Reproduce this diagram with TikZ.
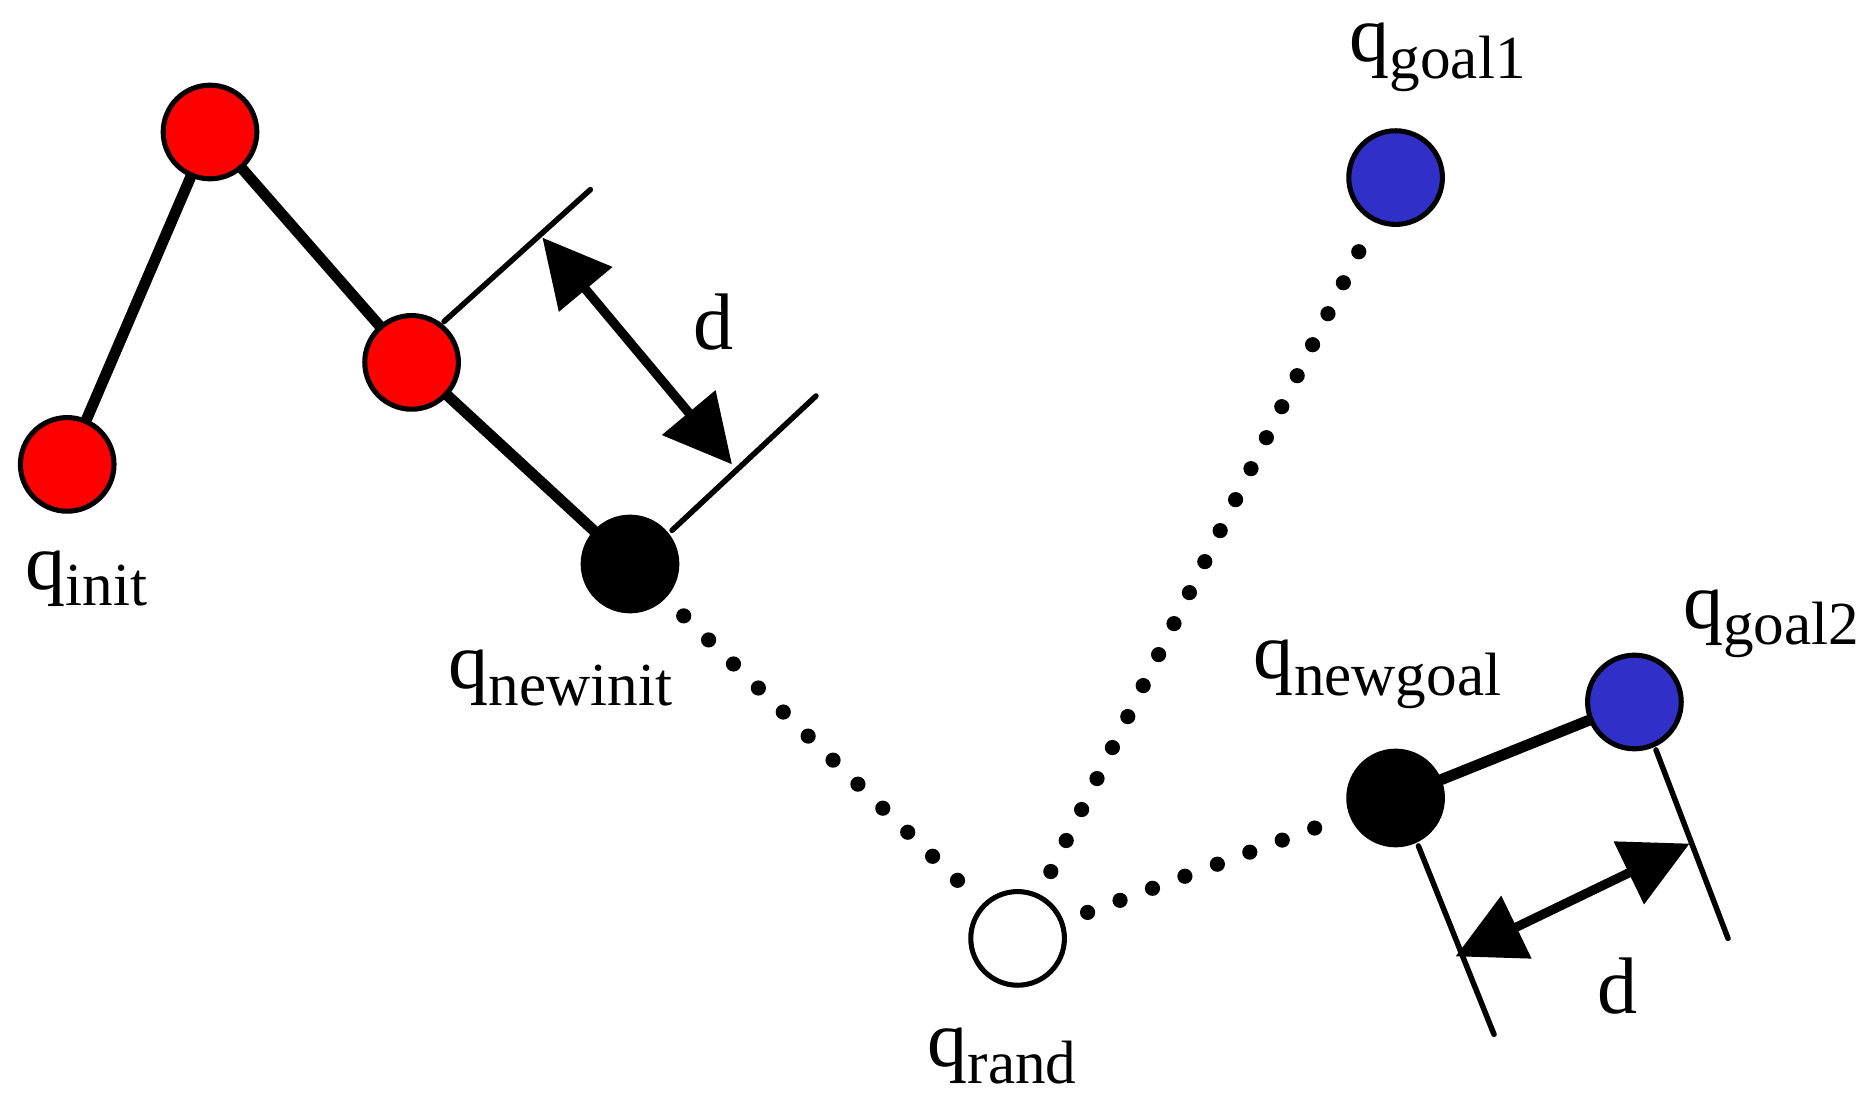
\documentclass[tikz,border=0pt]{standalone}
\usepackage{fontspec}
\setmainfont{Liberation Serif}
\usetikzlibrary{arrows.meta}
\newcommand{\qsub}[1]{q\raisebox{-0.45ex}{\fontsize{14.5}{17}\selectfont #1}}
\begin{document}
\begin{tikzpicture}[x=0.01cm, y=-0.01cm, line cap=round,
    vertex/.style={circle, draw=black, line width=1.2pt, minimum size=0.78cm, inner sep=0pt},
    tree/.style={line width=2.6pt},
    link/.style={line width=3.6pt, dash pattern=on 0pt off 8.2pt, shorten <=6pt, shorten >=6pt},
    ext/.style={line width=1.3pt},
    dim/.style={line width=2.2pt, {Triangle[length=16pt,width=16pt]}-{Triangle[length=16pt,width=16pt]}},
    lbl/.style={font=\fontsize{19}{23}\selectfont, inner sep=0pt}]
  \useasboundingbox (0,0) rectangle (1560,916);

  \node[vertex, fill=red] (init) at (56,387) {};
  \node[vertex, fill=red] (top) at (175,110) {};
  \node[vertex, fill=red] (mid) at (343,302) {};
  \node[vertex, fill=black] (newinit) at (525,470) {};
  \node[vertex, fill=white] (rand) at (848,782) {};
  \node[vertex, fill={rgb,255:red,48;green,48;blue,200}] (goal1) at (1163,148) {};
  \node[vertex, fill=black] (newgoal) at (1163,665) {};
  \node[vertex, fill={rgb,255:red,48;green,48;blue,200}] (goal2) at (1362,585) {};

  \draw[tree] (init) -- (top) -- (mid) -- (newinit);
  \draw[tree] (newgoal) -- (goal2);
  \draw[link] (newinit) -- (rand);
  \draw[link] (rand) -- (goal1);
  \draw[link] (rand) -- (newgoal);

  % extension lines for d
  \coordinate (a1) at (370,268); \coordinate (a2) at (492,158);
  \coordinate (b1) at (560,442); \coordinate (b2) at (680,330);
  \draw[ext] (a1) -- (a2);
  \draw[ext] (b1) -- (b2);
  \coordinate (da) at (452,198); \coordinate (db) at (610,387);
  \draw[dim] (da) -- (db);

  \coordinate (c1) at (1182,705); \coordinate (c2) at (1245,862);
  \coordinate (e1) at (1380,625); \coordinate (e2) at (1440,782);
  \draw[ext] (c1) -- (c2);
  \draw[ext] (e1) -- (e2);
  \coordinate (dc) at (1213,797); \coordinate (de) at (1408,703);
  \draw[dim] (dc) -- (de);

  \node[lbl] (dtop) at (595,268) {d};
  \node[lbl] (dbot) at (1348,822) {d};
  \node[lbl] (linit) at (72,482) {\qsub{init}};
  \node[lbl] (lnewinit) at (467,565) {\qsub{newinit}};
  \node[lbl] (lrand) at (835,880) {\qsub{rand}};
  \node[lbl] (lgoal1) at (1198,48) {\qsub{goal1}};
  \node[lbl] (lnewgoal) at (1148,562) {\qsub{newgoal}};
  \node[lbl] (lgoal2) at (1476,520) {\qsub{goal2}};
\end{tikzpicture}
\end{document}
